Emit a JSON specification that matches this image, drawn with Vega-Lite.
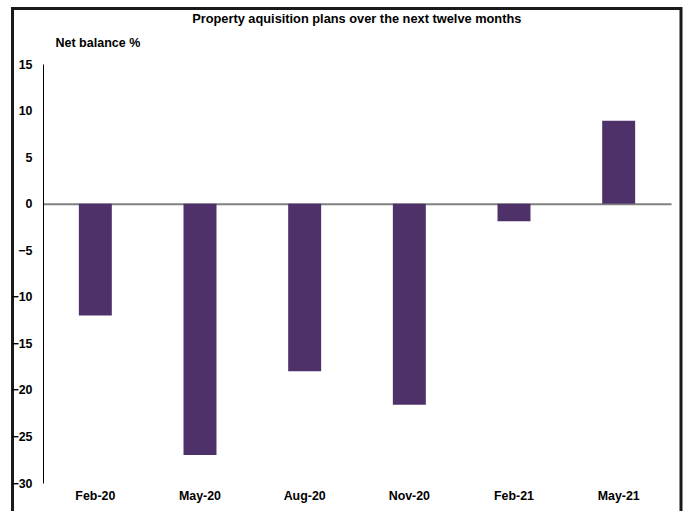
{
  "$schema": "https://vega.github.io/schema/vega-lite/v6.json",
  "autosize": "none",
  "width": 668.5,
  "height": 510,
  "padding": {"left": 12.5, "top": 8.5, "right": 4, "bottom": 0},
  "background": "white",
  "config": {
    "view": {"stroke": "#1a1a1a", "strokeWidth": 3, "fill": "white"},
    "font": "Liberation Sans"
  },
  "title": {
    "text": "Property aquisition plans over the next twelve months",
    "font": "Liberation Sans",
    "fontSize": 12.8,
    "fontWeight": "bold",
    "color": "#000000",
    "anchor": "middle",
    "dx": 10,
    "offset": -17
  },
  "data": {
    "values": [
      {"period": "Feb-20", "balance": -12},
      {"period": "May-20", "balance": -27},
      {"period": "Aug-20", "balance": -18},
      {"period": "Nov-20", "balance": -21.6},
      {"period": "Feb-21", "balance": -1.9},
      {"period": "May-21", "balance": 8.9}
    ]
  },
  "mark": {"type": "bar", "color": "#4f3169"},
  "encoding": {
    "x": {
      "field": "period",
      "type": "nominal",
      "sort": null,
      "scale": {"range": [30.5, 658.5], "paddingInner": 0.685, "paddingOuter": 0.3425},
      "axis": {
        "title": null,
        "offset": -314.8,
        "domainColor": "#808080",
        "domainWidth": 2,
        "ticks": false,
        "tickSize": 0,
        "labelPadding": 286,
        "labelAngle": 0,
        "labelFont": "Liberation Sans",
        "labelFontSize": 12.4,
        "labelFontWeight": "bold",
        "labelColor": "#000000"
      }
    },
    "y": {
      "field": "balance",
      "type": "quantitative",
      "scale": {"domain": [-30, 15], "nice": false, "range": [474.5, 55.5]},
      "axis": {
        "title": "Net balance %",
        "titleAngle": 0,
        "titleAlign": "left",
        "titleBaseline": "middle",
        "titleX": 12,
        "titleY": 33.5,
        "titleFont": "Liberation Sans",
        "titleFontSize": 12.5,
        "titleFontWeight": "bold",
        "titleColor": "#000000",
        "offset": -30.5,
        "values": [15, 10, 5, 0, -5, -10, -15, -20, -25, -30],
        "grid": false,
        "ticks": false,
        "tickSize": 0,
        "domainColor": "#000000",
        "domainWidth": 1,
        "labelPadding": 11,
        "labelFont": "Liberation Sans",
        "labelFontSize": 12.4,
        "labelFontWeight": "bold",
        "labelColor": "#000000"
      }
    }
  }
}
